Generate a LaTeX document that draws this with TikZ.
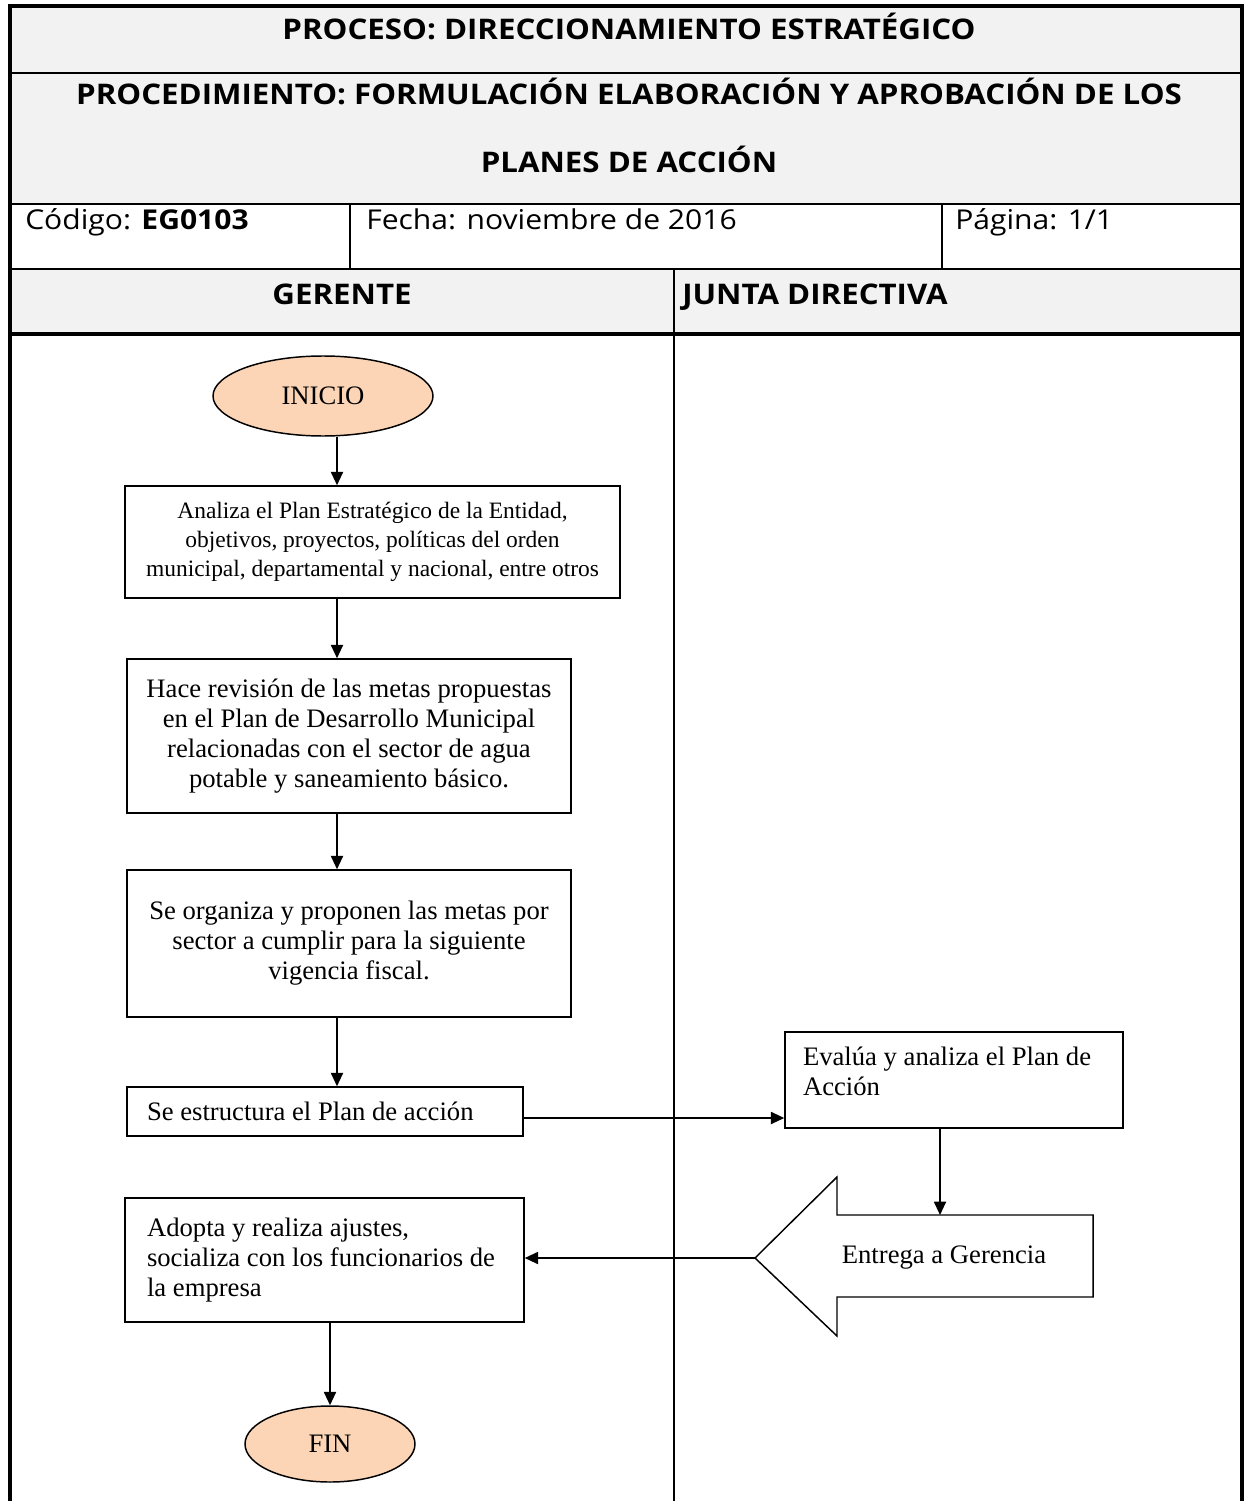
\documentclass[tikz,border=0pt]{standalone}
\usepackage{fontspec}
\setmainfont{Liberation Serif}
\newfontfamily\hdrfont[FakeStretch=1.1]{Open Sans}
\usetikzlibrary{arrows.meta,calc,shapes.geometric}
\definecolor{hdrgray}{HTML}{F2F2F2}
\definecolor{peach}{HTML}{FBD5B5}

\begin{document}
\begin{tikzpicture}[x=0.75pt,y=-0.75pt,
  flow/.style={-{Triangle[length=10pt,width=9pt]}, line width=1.4pt},
  stepbox/.style={draw, rectangle, line width=1.1pt, inner sep=0pt,
    font=\fontsize{20}{22.5}\selectfont},
  smallstep/.style={stepbox, font=\fontsize{17.6}{21.75}\selectfont},
  term/.style={draw, ellipse, fill=peach, line width=1.1pt, inner sep=0pt,
    font=\fontsize{20}{22.5}\selectfont},
  htitle/.style={font=\hdrfont\bfseries\fontsize{21.3}{24}\selectfont, inner sep=0pt},
  hcell/.style={font=\hdrfont\fontsize{20.5}{24}\selectfont, inner sep=0pt},
  thinrule/.style={line width=1.1pt},
  thickrule/.style={line width=2.4pt}
]
\useasboundingbox (0,0) rectangle (1252,1501);

% ---- header table ----
\fill[hdrgray] (10,6) rectangle (1242,204);
\fill[hdrgray] (10,269) rectangle (1242,334);
\draw[thinrule] (10,73) -- (1242,73);
\draw[thinrule] (10,204) -- (1242,204);
\draw[thinrule] (10,269) -- (1242,269);
\draw[thinrule] (350,204) -- (350,269);
\draw[thinrule] (942,204) -- (942,269);
\draw[thickrule] (10,334) -- (1242,334);
\draw[thinrule] (674,269) -- (674,1501);
\draw[thickrule] (10,1501) -- (10,6) -- (1242,6) -- (1242,1501);

\node[htitle, anchor=base] (proceso) at (629,40) {PROCESO: DIRECCIONAMIENTO ESTRATÉGICO};
\node[htitle, anchor=base] (proced1) at (629,105) {PROCEDIMIENTO: FORMULACIÓN ELABORACIÓN Y APROBACIÓN DE LOS};
\node[htitle, anchor=base] (proced2) at (629,173) {PLANES DE ACCIÓN};
\node[hcell, anchor=base west] (codigo) at (25,230) {Código: \textbf{EG0103}};
\node[hcell, anchor=base west] (fecha) at (366,230) {Fecha: noviembre de 2016};
\node[hcell, anchor=base west] (pagina) at (955,230) {Página: 1/1};
\node[htitle, anchor=base] (gerente) at (342,305) {GERENTE};
\node[htitle, anchor=base west] (junta) at (682,305) {JUNTA DIRECTIVA};

% ---- GERENTE lane ----
\coordinate (spine) at (337,0);
\node[term, minimum width=165pt, minimum height=60pt] (inicio) at (323,396) {INICIO};
\node[smallstep, minimum width=371.25pt, minimum height=84pt, align=center] (s1) at (372.5,542)
  {Analiza el Plan Estratégico de la Entidad,\\ objetivos, proyectos, políticas del orden\\ municipal, departamental y nacional, entre otros};
\node[stepbox, minimum width=333pt, minimum height=115.5pt, align=center] (s2) at (349,736)
  {Hace revisión de las metas propuestas\\ en el Plan de Desarrollo Municipal\\ relacionadas con el sector de agua\\ potable y saneamiento básico.};
\node[stepbox, minimum width=333pt, minimum height=110.25pt, align=center] (s3) at (349,943.5)
  {Se organiza y proponen las metas por\\ sector a cumplir para la siguiente\\ vigencia fiscal.};
\node[stepbox, minimum width=297pt, minimum height=36.75pt, inner xsep=15pt,
  text width=267pt, align=flush left] (s4) at (325,1111.5) {Se estructura el Plan de acción};
\node[stepbox, minimum width=299.25pt, minimum height=93pt, inner xsep=16.5pt,
  text width=266.25pt, align=flush left] (s5) at (324.5,1260)
  {Adopta y realiza ajustes,\\ socializa con los funcionarios de\\ la empresa};
\node[term, minimum width=127.5pt, minimum height=57pt] (fin) at (330,1444) {FIN};

% ---- JUNTA DIRECTIVA lane ----
\node[stepbox, minimum width=253.5pt, minimum height=72pt, inner xsep=13.5pt] (ev) at (954,1080)
  {\parbox[c][50pt][t]{226.5pt}{\raggedright Evalúa y analiza el Plan de\\ Acción}};
\coordinate (etip) at (755,1258);
\coordinate (etop) at (940,1215);
\draw[line width=1.1pt, line join=miter] (etip) -- (837,1177) -- (837,1215) -- (1093,1215)
  -- (1093,1297) -- (837,1297) -- (837,1336) -- cycle;
\node[font=\fontsize{20}{22.5}\selectfont, inner sep=0pt] (entrega) at (944,1258) {Entrega a Gerencia};

% ---- connectors ----
\coordinate (link) at (0,1118);
\draw[flow] (inicio.south -| spine) -- (s1.north -| spine);
\draw[flow] (s1.south -| spine) -- (s2.north -| spine);
\draw[flow] (s2.south -| spine) -- (s3.north -| spine);
\draw[flow] (s3.south -| spine) -- (s4.north -| spine);
\draw[flow] (s4.east |- link) -- (ev.west |- link);
\draw[flow] (ev.south -| etop) -- (etop);
\draw[flow] (etip) -- (s5.east |- etip);
\draw[flow] (s5.south -| fin) -- (fin.north);
\end{tikzpicture}
\end{document}
